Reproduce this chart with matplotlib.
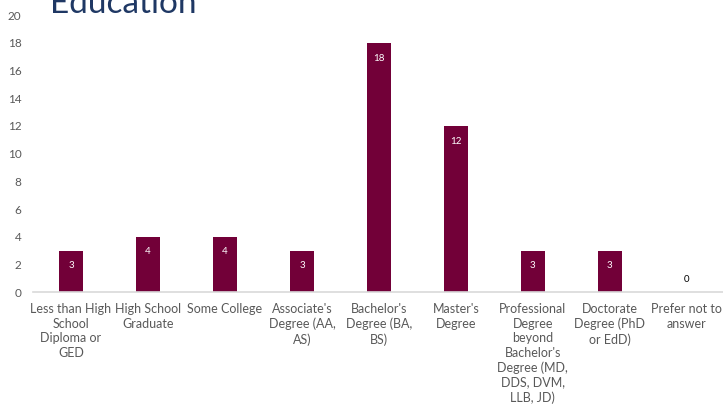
import matplotlib.pyplot as plt
import numpy as np

plt.rcParams['font.family'] = ['Lato', 'DejaVu Sans']

# chart data
categories = ["Less than High\nSchool\nDiploma or\nGED",
              "High School\nGraduate",
              "Some College",
              "Associate's\nDegree (AA,\nAS)",
              "Bachelor's\nDegree (BA,\nBS)",
              "Master's\nDegree",
              "Professional\nDegree\nbeyond\nBachelor's\nDegree (MD,\nDDS, DVM,\nLLB, JD)",
              "Doctorate\nDegree (PhD\nor EdD)",
              "Prefer not to\nanswer"]
counts = [3, 4, 4, 3, 18, 12, 3, 3, 0]
y_ticks = [0, 2, 4, 6, 8, 10, 12, 14, 16, 18, 20]

bar_color = '#720038'
tick_color = '#595959'

fig = plt.figure(figsize=(7.23, 4.08), dpi=100)
ax = fig.add_axes([0.045, 0.284, 0.958, 0.679])

x = np.arange(len(categories))
bars = ax.bar(x, counts, width=0.31, color=bar_color)

ax.set_xlim(-0.5, len(categories) - 0.5)
ax.set_ylim(0, 20)
ax.set_yticks(y_ticks)
ax.set_xticks(x)
ax.set_xticklabels(categories, fontsize=9, color=tick_color, linespacing=1.25)
ax.tick_params(axis='y', labelsize=8.5, labelcolor=tick_color, length=0, pad=8)
ax.tick_params(axis='x', length=0, pad=8)

for s in ['top', 'right', 'left']:
    ax.spines[s].set_visible(False)
ax.spines['bottom'].set_color('#d9d9d9')
ax.spines['bottom'].set_linewidth(1.2)

# value labels
for xi, v in zip(x, counts):
    if v > 0:
        ax.annotate(str(v), (xi, v), xytext=(0, -11), textcoords='offset points',
                    ha='center', va='center', color='white', fontsize=7)
    else:
        ax.annotate(str(v), (xi, v), xytext=(0, 9), textcoords='offset points',
                    ha='center', va='center', color='black', fontsize=7)

fig.text(0.069, 0.968, 'Education', fontsize=24, color='#1f3864',
         ha='left', va='baseline')

fig.savefig('out.png', dpi=100)
